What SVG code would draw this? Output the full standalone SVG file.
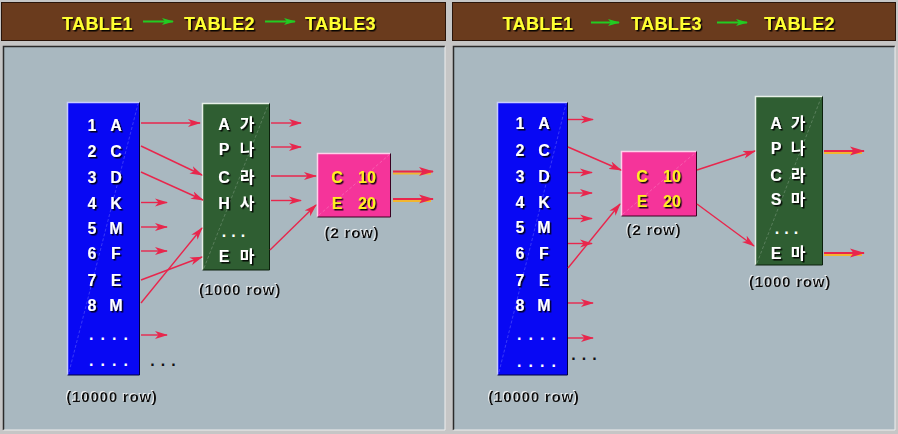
<svg xmlns="http://www.w3.org/2000/svg" width="898" height="434" viewBox="0 0 898 434">
<style>
.title{font-family:"Liberation Sans",Arial,sans-serif;font-weight:bold;font-size:18px;letter-spacing:0.4px;fill:#ffff33;text-anchor:middle;filter:url(#sh)}
.cell{font-family:"Liberation Sans","Noto Sans CJK KR",sans-serif;font-weight:bold;font-size:16px;fill:#ffffff;text-anchor:middle;filter:url(#sh)}
.kr{font-family:"Noto Sans CJK KR","Liberation Sans",sans-serif;font-weight:bold;font-size:16px;fill:#ffffff;text-anchor:middle;filter:url(#sh)}
.ycell{font-family:"Liberation Sans",Arial,sans-serif;font-weight:bold;font-size:16px;fill:#ffee22;text-anchor:middle;filter:url(#sh)}
.lbl{font-family:"Liberation Sans",Arial,sans-serif;font-weight:bold;font-size:15px;letter-spacing:0.8px;fill:#111111;text-anchor:middle;filter:url(#hl)}
.dots{font-family:"Liberation Sans",Arial,sans-serif;font-weight:bold;font-size:16px;fill:#ffffff;text-anchor:middle;letter-spacing:7px}
.bdots{font-family:"Liberation Sans",Arial,sans-serif;font-weight:bold;font-size:16px;fill:#111111;text-anchor:middle;letter-spacing:6px}
.conn{stroke:#e8264c;stroke-width:1.4;fill:none;marker-end:url(#ah)}
.out{stroke:#e8264c;stroke-width:2;fill:none;marker-end:url(#ah2)}
.outsh{stroke:#f2b630;stroke-width:2;fill:none}
.garr{stroke:#22cc22;stroke-width:2;fill:none;marker-end:url(#gah)}
.streak{stroke:#ffffff;stroke-opacity:0.2;stroke-width:1;stroke-dasharray:3 2;fill:none}
</style>
<defs>
<filter id="sh" x="-20%" y="-30%" width="150%" height="170%">
<feDropShadow dx="1.5" dy="1.5" stdDeviation="0.3" flood-color="#000000" flood-opacity="0.9"/>
</filter>
<filter id="hl" x="-10%" y="-30%" width="130%" height="170%">
<feDropShadow dx="-1" dy="-1" stdDeviation="0.3" flood-color="#ffffff" flood-opacity="0.8"/>
</filter>
<marker id="ah" markerWidth="13" markerHeight="9" refX="12" refY="4.5" orient="auto" markerUnits="userSpaceOnUse">
<path d="M0,0.5 L13,4.5 L0,8.5 L3.5,4.5 Z" fill="#e8264c"/>
</marker>
<marker id="ah2" markerWidth="15" markerHeight="10" refX="14" refY="5" orient="auto" markerUnits="userSpaceOnUse">
<path d="M0,0.5 L15,5 L0,9.5 L3.5,5 Z" fill="#e8264c"/>
</marker>
<marker id="gah" markerWidth="12" markerHeight="8" refX="11" refY="4" orient="auto" markerUnits="userSpaceOnUse">
<path d="M0,0.5 L12,4 L0,7.5 L3,4 Z" fill="#22cc22"/>
</marker>
</defs>

<rect x="0" y="0" width="898" height="434" fill="#c6c6c6"/>

<!-- title bars -->
<g id="title-left">
<rect x="1.5" y="2.5" width="444" height="38" fill="#6a3b1d" stroke="#2a150a"/>
<text class="title" x="97.5" y="30">TABLE1</text>
<text class="title" x="219.5" y="30">TABLE2</text>
<text class="title" x="340.5" y="30">TABLE3</text>
<line class="garr" x1="143" y1="21.5" x2="173" y2="21.5"/>
<line class="garr" x1="265" y1="21.5" x2="295" y2="21.5"/>
</g>
<g id="title-right">
<rect x="452.5" y="2.5" width="443" height="38" fill="#6a3b1d" stroke="#2a150a"/>
<text class="title" x="538" y="30">TABLE1</text>
<text class="title" x="666.5" y="30">TABLE3</text>
<text class="title" x="799.5" y="30">TABLE2</text>
<line class="garr" x1="591" y1="22.5" x2="619" y2="22.5"/>
<line class="garr" x1="717" y1="22.5" x2="747" y2="22.5"/>
</g>

<!-- panels -->
<g id="panel-left">
<rect x="3" y="46" width="442" height="384" fill="#a9b8c0"/>
<path d="M3.5,430 L3.5,46.5 L445,46.5" stroke="#2b2b2b" stroke-width="1.5" fill="none"/>
<path d="M3.5,430 L445,430 L445,46.5" stroke="#eeeeee" stroke-width="1" fill="none"/>
</g>
<g id="panel-right">
<rect x="453" y="46" width="442" height="384" fill="#a9b8c0"/>
<path d="M453.5,430 L453.5,46.5 L895,46.5" stroke="#2b2b2b" stroke-width="1.5" fill="none"/>
<path d="M453.5,430 L895,430 L895,46.5" stroke="#eeeeee" stroke-width="1" fill="none"/>
</g>

<!-- LEFT: table1 -->
<g id="L-table1">
<rect x="67" y="102" width="72" height="273" fill="#0808f4"/>
<path d="M67.5,375 L67.5,102.5 L139,102.5" stroke="#c8ccff" stroke-width="1.5" fill="none"/>
<path d="M67.5,375 L139.5,375 L139.5,102.5" stroke="#000040" stroke-width="1" fill="none"/>
<line class="streak" x1="69" y1="372" x2="138" y2="104"/>
<text class="cell" x="92" y="131">1</text><text class="cell" x="116" y="131">A</text>
<text class="cell" x="92" y="157">2</text><text class="cell" x="116" y="157">C</text>
<text class="cell" x="92" y="183">3</text><text class="cell" x="116" y="183">D</text>
<text class="cell" x="92" y="209">4</text><text class="cell" x="116" y="209">K</text>
<text class="cell" x="92" y="234">5</text><text class="cell" x="116" y="234">M</text>
<text class="cell" x="92" y="259">6</text><text class="cell" x="116" y="259">F</text>
<text class="cell" x="92" y="286">7</text><text class="cell" x="116" y="286">E</text>
<text class="cell" x="92" y="311">8</text><text class="cell" x="116" y="311">M</text>
<text class="dots" x="112" y="340">....</text>
<text class="dots" x="112" y="366">....</text>
<text class="lbl" x="112" y="402">(10000 row)</text>
<text class="bdots" x="166" y="366">...</text>
</g>

<!-- LEFT: table2 -->
<g id="L-table2">
<rect x="202" y="103" width="67" height="167" fill="#2f5e32"/>
<path d="M202.5,270 L202.5,103.5 L269,103.5" stroke="#e8f0e8" stroke-width="1.5" fill="none"/>
<path d="M202.5,270 L269.5,270 L269.5,103.5" stroke="#0c200c" stroke-width="1" fill="none"/>
<line class="streak" x1="204" y1="268" x2="268" y2="105"/>
<text class="cell" x="224" y="130">A</text><text class="kr" x="247" y="130">가</text>
<text class="cell" x="224" y="155">P</text><text class="kr" x="247" y="155">나</text>
<text class="cell" x="224" y="183">C</text><text class="kr" x="247" y="183">라</text>
<text class="cell" x="224" y="209">H</text><text class="kr" x="247" y="209">사</text>
<text class="dots" x="236" y="237" style="letter-spacing:5px">...</text>
<text class="cell" x="224" y="262">E</text><text class="kr" x="247" y="262">마</text>
<text class="lbl" x="240" y="295">(1000 row)</text>
</g>

<!-- LEFT: table3 -->
<g id="L-table3">
<rect x="317" y="153" width="73" height="64" fill="#f5349a"/>
<path d="M317.5,217 L317.5,153.5 L390,153.5" stroke="#ffd0ea" stroke-width="1.5" fill="none"/>
<path d="M317.5,217 L390.5,217 L390.5,153.5" stroke="#3a0020" stroke-width="1" fill="none"/>
<line class="streak" x1="319" y1="215" x2="389" y2="155"/>
<text class="ycell" x="337" y="183">C</text><text class="ycell" x="367" y="183">10</text>
<text class="ycell" x="337" y="209">E</text><text class="ycell" x="367" y="209">20</text>
<text class="lbl" x="352" y="238">(2 row)</text>
</g>

<!-- RIGHT: table1 -->
<g id="R-table1">
<rect x="497" y="102" width="70" height="273" fill="#0808f4"/>
<path d="M497.5,375 L497.5,102.5 L567,102.5" stroke="#c8ccff" stroke-width="1.5" fill="none"/>
<path d="M497.5,375 L567.5,375 L567.5,102.5" stroke="#000040" stroke-width="1" fill="none"/>
<line class="streak" x1="499" y1="372" x2="566" y2="104"/>
<text class="cell" x="520" y="129">1</text><text class="cell" x="544" y="129">A</text>
<text class="cell" x="520" y="156">2</text><text class="cell" x="544" y="156">C</text>
<text class="cell" x="520" y="182">3</text><text class="cell" x="544" y="182">D</text>
<text class="cell" x="520" y="208">4</text><text class="cell" x="544" y="208">K</text>
<text class="cell" x="520" y="233">5</text><text class="cell" x="544" y="233">M</text>
<text class="cell" x="520" y="259">6</text><text class="cell" x="544" y="259">F</text>
<text class="cell" x="520" y="286">7</text><text class="cell" x="544" y="286">E</text>
<text class="cell" x="520" y="311">8</text><text class="cell" x="544" y="311">M</text>
<text class="dots" x="540" y="340">....</text>
<text class="dots" x="540" y="367">....</text>
<text class="lbl" x="534" y="402">(10000 row)</text>
<text class="bdots" x="587" y="360">...</text>
</g>

<!-- RIGHT: table3 -->
<g id="R-table3">
<rect x="621" y="151" width="75" height="65" fill="#f5349a"/>
<path d="M621.5,216 L621.5,151.5 L696,151.5" stroke="#ffd0ea" stroke-width="1.5" fill="none"/>
<path d="M621.5,216 L696.5,216 L696.5,151.5" stroke="#3a0020" stroke-width="1" fill="none"/>
<line class="streak" x1="623" y1="214" x2="695" y2="153"/>
<text class="ycell" x="642" y="182">C</text><text class="ycell" x="672" y="182">10</text>
<text class="ycell" x="642" y="207">E</text><text class="ycell" x="672" y="207">20</text>
<text class="lbl" x="654" y="235">(2 row)</text>
</g>

<!-- RIGHT: table2 -->
<g id="R-table2">
<rect x="755" y="96" width="67" height="169" fill="#2f5e32"/>
<path d="M755.5,265 L755.5,96.5 L822,96.5" stroke="#e8f0e8" stroke-width="1.5" fill="none"/>
<path d="M755.5,265 L822.5,265 L822.5,96.5" stroke="#0c200c" stroke-width="1" fill="none"/>
<line class="streak" x1="757" y1="263" x2="821" y2="98"/>
<text class="cell" x="776" y="129">A</text><text class="kr" x="798" y="129">가</text>
<text class="cell" x="776" y="154">P</text><text class="kr" x="798" y="154">나</text>
<text class="cell" x="776" y="181">C</text><text class="kr" x="798" y="181">라</text>
<text class="cell" x="776" y="205">S</text><text class="kr" x="798" y="205">마</text>
<text class="dots" x="789" y="234" style="letter-spacing:5px">...</text>
<text class="cell" x="776" y="259">E</text><text class="kr" x="798" y="259">마</text>
<text class="lbl" x="790" y="287">(1000 row)</text>
</g>

<!-- connectors -->
<g id="connectors">
<line class="conn" x1="141" y1="123" x2="200" y2="123"/>
<line class="conn" x1="141" y1="146" x2="202" y2="175"/>
<line class="conn" x1="141" y1="172" x2="203" y2="200"/>
<line class="conn" x1="141" y1="202.5" x2="167" y2="202.5"/>
<line class="conn" x1="141" y1="227" x2="167" y2="227"/>
<line class="conn" x1="141" y1="251" x2="167" y2="251"/>
<line class="conn" x1="141" y1="280" x2="202" y2="257"/>
<line class="conn" x1="141" y1="303" x2="202" y2="228"/>
<line class="conn" x1="141" y1="335" x2="167" y2="335"/>
<line class="conn" x1="271" y1="123" x2="301" y2="123"/>
<line class="conn" x1="271" y1="147" x2="301" y2="147"/>
<line class="conn" x1="271" y1="176" x2="316" y2="176"/>
<line class="conn" x1="271" y1="200.5" x2="301" y2="200.5"/>
<line class="conn" x1="270" y1="250" x2="316" y2="205"/>
<line class="outsh" x1="393" y1="173.5" x2="431" y2="173.5"/>
<line class="out" x1="393" y1="171.5" x2="433" y2="171.5"/>
<line class="outsh" x1="393" y1="201" x2="431" y2="201"/>
<line class="out" x1="393" y1="199" x2="433" y2="199"/>
<line class="conn" x1="568" y1="119.5" x2="593" y2="119.5"/>
<line class="conn" x1="568" y1="147" x2="621" y2="170"/>
<line class="conn" x1="568" y1="172.5" x2="592" y2="172.5"/>
<line class="conn" x1="568" y1="193" x2="592" y2="193"/>
<line class="conn" x1="568" y1="218.5" x2="592" y2="218.5"/>
<line class="conn" x1="568" y1="243.5" x2="592" y2="243.5"/>
<line class="conn" x1="568" y1="268" x2="620" y2="204"/>
<line class="conn" x1="568" y1="303" x2="593" y2="303"/>
<line class="conn" x1="568" y1="338" x2="593" y2="338"/>
<line class="conn" x1="697" y1="170" x2="755" y2="151"/>
<line class="conn" x1="697" y1="204" x2="754" y2="246"/>
<line class="outsh" x1="824" y1="153" x2="862" y2="153"/>
<line class="out" x1="824" y1="151" x2="864" y2="151"/>
<line class="outsh" x1="824" y1="255" x2="862" y2="255"/>
<line class="out" x1="824" y1="253" x2="864" y2="253"/>
</g>
</svg>
